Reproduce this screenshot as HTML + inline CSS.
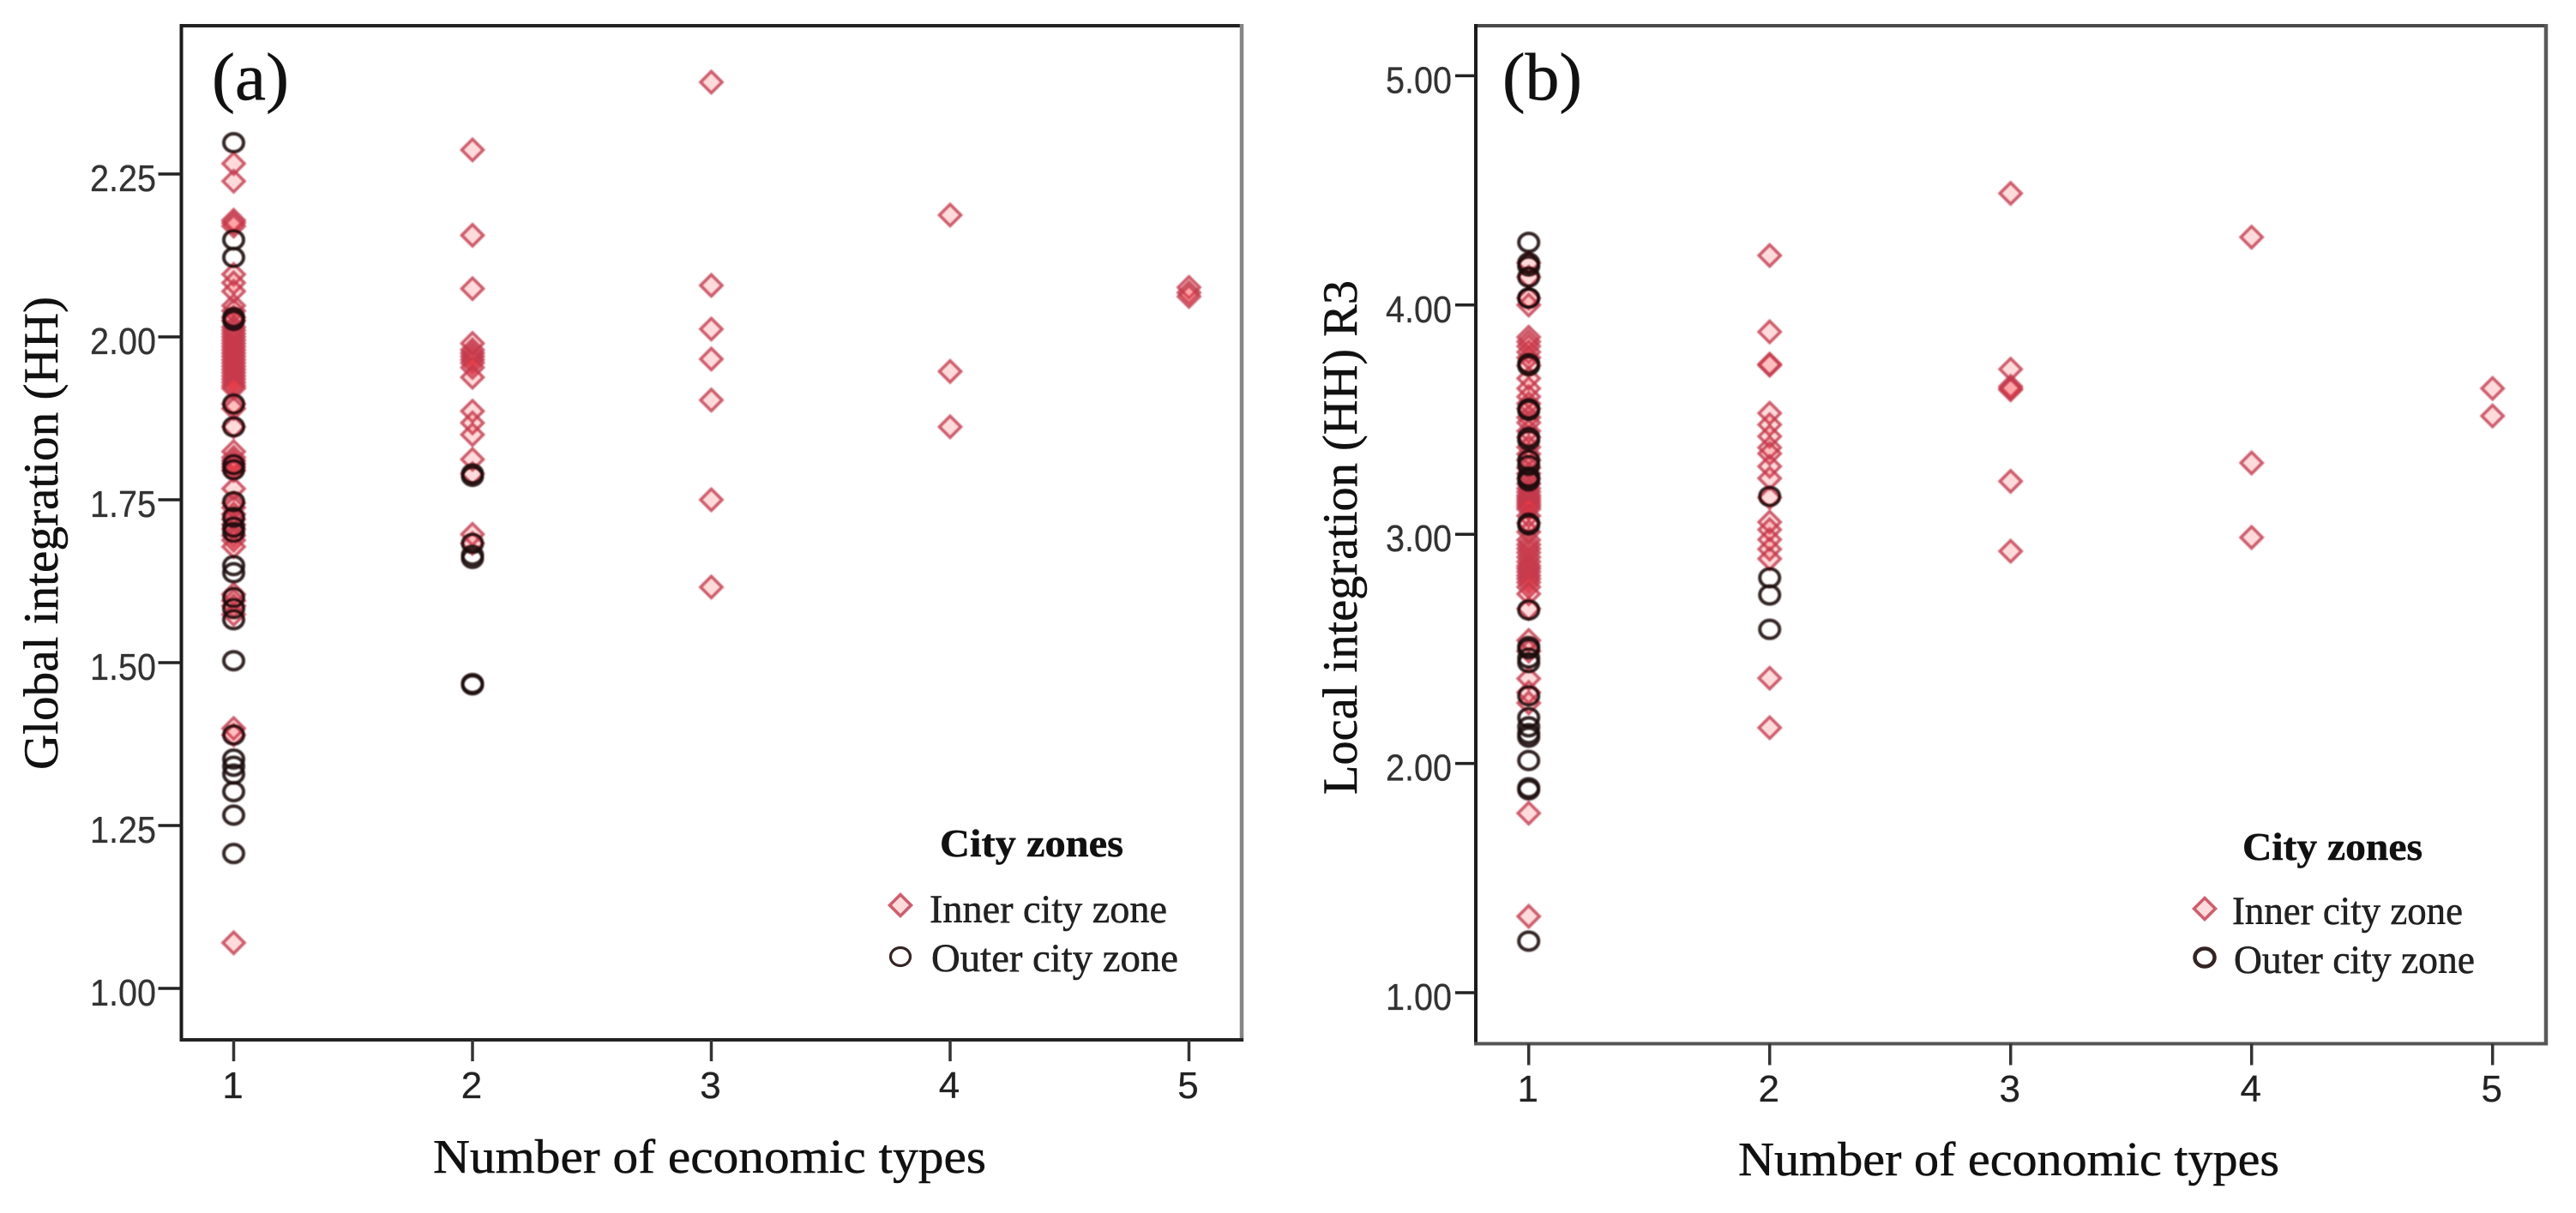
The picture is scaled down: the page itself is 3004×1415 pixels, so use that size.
<!DOCTYPE html>
<html lang="en">
<head>
<meta charset="utf-8">
<title>Economic types vs integration</title>
<style>
html,body{margin:0;padding:0;background:#fff;width:3004px;height:1415px;overflow:hidden}
svg{display:block}
.serif{font-family:"Liberation Serif",serif;stroke:#111;stroke-width:0.5px}
.sans{font-family:"Liberation Sans",sans-serif;stroke:#333;stroke-width:0.3px}
</style>
</head>
<body>
<svg id="chart" xmlns="http://www.w3.org/2000/svg" width="3004" height="1415" viewBox="0 0 3004 1415">
  <defs>
    <filter id="soft" x="-20%" y="-5%" width="140%" height="110%"><feGaussianBlur stdDeviation="0.9"/></filter>
  </defs>
  <rect width="3004" height="1415" fill="#fff"/>
  <g id="panel-a"></g>
  <g id="panel-b"></g>
</svg>
<script>
// Panel (a): Global integration (HH)
const xCategories = [1, 2, 3, 4, 5];
const aYTicks = [1.00, 1.25, 1.50, 1.75, 2.00, 2.25];
const aInner1 = [2.266,2.239,2.179,2.175,2.170,2.096,2.083,2.070,2.048,2.040,2.030,2.025,2.015,2.010,2.005,2.000,1.995,1.990,1.985,1.980,1.975,1.970,1.965,1.960,1.955,1.950,1.945,1.940,1.935,1.930,1.925,1.921,1.897,1.890,1.862,1.824,1.815,1.810,1.805,1.800,1.795,1.767,1.745,1.738,1.728,1.720,1.712,1.705,1.695,1.688,1.678,1.605,1.595,1.587,1.574,1.399,1.389,1.070];
const aInner2 = [2.287,2.156,2.074,1.990,1.980,1.975,1.970,1.965,1.960,1.953,1.938,1.886,1.868,1.850,1.812,1.790,1.697,1.683];
const aInner3 = [2.391,2.079,2.012,1.966,1.903,1.750,1.616];
const aInner4 = [2.187,1.947,1.862];
const aInner5 = [2.076,2.068,2.062];
const aOuter1 = [2.298,2.149,2.122,2.030,2.025,1.897,1.862,1.804,1.796,1.747,1.723,1.708,1.700,1.649,1.638,1.600,1.583,1.566,1.503,1.389,1.352,1.341,1.329,1.302,1.266,1.207];
const aOuter2 = [1.790,1.786,1.683,1.665,1.660,1.466,1.468];

// Panel (b): Local integration (HH) R3
const bYTicks = [1.00, 2.00, 3.00, 4.00, 5.00];
const bInner1 = [4.184,4.122,4.030,4.000,3.860,3.840,3.820,3.795,3.770,3.735,3.680,3.636,3.600,3.570,3.548,3.510,3.487,3.450,3.423,3.380,3.350,3.323,3.290,3.265,3.243,3.220,3.200,3.185,3.170,3.160,3.150,3.140,3.130,3.120,3.110,3.080,3.049,3.010,2.975,2.955,2.937,2.920,2.900,2.880,2.862,2.850,2.836,2.820,2.806,2.790,2.770,2.740,2.675,2.537,2.490,2.370,2.310,2.264,1.783,1.333];
const bInner2 = [4.216,3.883,3.737,3.742,3.528,3.478,3.427,3.378,3.352,3.296,3.244,3.160,3.053,3.020,2.977,2.935,2.893,2.372,2.156];
const bInner3 = [4.487,3.720,3.645,3.636,3.630,3.231,2.926];
const bInner4 = [4.296,3.311,2.986];
const bInner5 = [3.636,3.516];
const bOuter1 = [4.273,4.184,4.170,4.122,4.030,4.030,3.745,3.735,3.548,3.540,3.423,3.410,3.323,3.300,3.250,3.243,3.232,3.049,3.040,2.670,2.510,2.500,2.460,2.440,2.295,2.200,2.160,2.130,2.115,2.013,1.894,1.885,1.225];
const bOuter2 = [3.165,2.810,2.735,2.585];

const aInnerSeries = [aInner1, aInner2, aInner3, aInner4, aInner5];
const aOuterSeries = [aOuter1, aOuter2];
const bInnerSeries = [bInner1, bInner2, bInner3, bInner4, bInner5];
const bOuterSeries = [bOuter1, bOuter2];

const NS = 'http://www.w3.org/2000/svg';

function svgEl(parent, tag, props) {
  const el = document.createElementNS(NS, tag);
  for (const k in props) el.setAttribute(k, props[k]);
  parent.appendChild(el);
  return el;
}

function diamondPoints(cx, cy, r) {
  return (cx - r) + ',' + cy + ' ' + cx + ',' + (cy - r) + ' ' + (cx + r) + ',' + cy + ' ' + cx + ',' + (cy + r);
}

function drawDiamond(parent, cx, cy) {
  const d = svgEl(parent, 'polygon', {points: diamondPoints(cx, cy, 12.5), fill: 'rgba(255,40,50,0.17)', stroke: '#c23a4c', 'stroke-width': 3.6, 'stroke-opacity': 0.8});
  
  
}

function drawCircle(parent, cx, cy, width) {
  const c = svgEl(parent, 'ellipse', {cx: cx, cy: cy, rx: 11.5, ry: 10.5, fill: 'none', stroke: '#1e0c0c', 'stroke-width': width, 'stroke-opacity': 0.9});
  
  
}

function drawPanel(cfg) {
  const root = document.getElementById(cfg.id);
  const xScale = function (n) { return cfg.x1 + cfg.xStep * (n - 1); };
  const yScale = function (v) { return cfg.y1 - cfg.yUnit * (v - 1); };

  // marks
  const marks = svgEl(root, 'g', {filter: 'url(#soft)'});
  
  
  cfg.inner.forEach(function (vals, i) {
    vals.forEach(function (v) { drawDiamond(marks, xScale(xCategories[i]), yScale(v)); });
  });
  cfg.outer.forEach(function (vals, i) {
    vals.forEach(function (v) { drawCircle(marks, xScale(xCategories[i]), yScale(v), 4); });
  });

  // plot frame
  const frame = svgEl(root, 'g', {});
  
  
  svgEl(frame, 'line', {x1: cfg.left, y1: cfg.top, x2: cfg.right, y2: cfg.top, stroke: cfg.topColor, 'stroke-width': 4});
  svgEl(frame, 'line', {x1: cfg.right, y1: cfg.top - 2, x2: cfg.right, y2: cfg.bottom + 2, stroke: cfg.rightColor, 'stroke-width': 4.5});
  svgEl(frame, 'line', {x1: cfg.left, y1: cfg.top - 2, x2: cfg.left, y2: cfg.bottom + 2, stroke: '#1c1c1c', 'stroke-width': 4});
  svgEl(frame, 'line', {x1: cfg.left - 2, y1: cfg.bottom, x2: cfg.right + 2, y2: cfg.bottom, stroke: cfg.bottomColor, 'stroke-width': 4});

  // y ticks
  cfg.yTicks.forEach(function (v) {
    const y = yScale(v);
    const tick = svgEl(root, 'line', {x1: cfg.left - cfg.yTickLen, y1: y, x2: cfg.left, y2: y, stroke: '#222', 'stroke-width': 3.5});
    
    
    const t = svgEl(root, 'text', {x: cfg.yLabelRight, y: y + 20, 'text-anchor': 'end', 'font-size': 44, fill: '#333', 'class': 'sans', textLength: 77, lengthAdjust: 'spacingAndGlyphs'});
    t.textContent = v.toFixed(2);
    
    
  });

  // x ticks
  xCategories.forEach(function (n) {
    const x = xScale(n);
    const tick = svgEl(root, 'line', {x1: x, y1: cfg.bottom, x2: x, y2: cfg.bottom + 25, stroke: '#333', 'stroke-width': 3.5});
    
    
    const t = svgEl(root, 'text', {x: x - 1, y: cfg.xLabelBase, 'text-anchor': 'middle', 'font-size': 44, fill: '#222', 'class': 'sans'});
    t.textContent = String(n);
    
    
  });

  // panel tag
  const tag = svgEl(root, 'text', {x: cfg.tagX, y: cfg.tagY, 'font-size': 78, fill: '#111', 'class': 'serif', textLength: cfg.tagW, lengthAdjust: 'spacingAndGlyphs'});
  tag.textContent = cfg.tag;
  
  

  // axis titles
  const yt = svgEl(root, 'text', {transform: 'translate(' + cfg.yTitleX + ',' + cfg.yTitleBottom + ') rotate(-90)', 'font-size': 57, fill: '#111', 'class': 'serif', textLength: cfg.yTitleLen, lengthAdjust: 'spacingAndGlyphs'});
  yt.textContent = cfg.yTitle;
  
  

  const xt = svgEl(root, 'text', {x: cfg.xTitleX, y: cfg.xTitleY, 'font-size': 56, fill: '#111', 'class': 'serif', textLength: cfg.xTitleLen, lengthAdjust: 'spacingAndGlyphs'});
  xt.textContent = 'Number of economic types';
  
  

  // legend
  const lg = svgEl(root, 'g', {});
  
  
  const lt = svgEl(lg, 'text', {x: cfg.lgTitleX, y: cfg.lgTitleY, 'font-size': 46, 'font-weight': 'bold', fill: '#111', 'class': 'serif', textLength: cfg.lgTitleW, lengthAdjust: 'spacingAndGlyphs'});
  lt.textContent = 'City zones';
  
  

  drawDiamond(lg, cfg.lgMarkX, cfg.lgDiamondY);
  const li = svgEl(lg, 'text', {x: cfg.lgInnerX, y: cfg.lgInnerY, 'font-size': 47, fill: '#222', 'class': 'serif', textLength: cfg.lgInnerW, lengthAdjust: 'spacingAndGlyphs'});
  li.textContent = 'Inner city zone';
  
  

  drawCircle(lg, cfg.lgMarkX, cfg.lgCircleY, cfg.lgCircleStroke);
  const lo = svgEl(lg, 'text', {x: cfg.lgOuterX, y: cfg.lgOuterY, 'font-size': 47, fill: '#222', 'class': 'serif', textLength: cfg.lgOuterW, lengthAdjust: 'spacingAndGlyphs'});
  lo.textContent = 'Outer city zone';
  
  
}

drawPanel({
  id: 'panel-a', inner: aInnerSeries, outer: aOuterSeries, yTicks: aYTicks,
  x1: 272.5, xStep: 278.5, y1: 1153, yUnit: 760,
  left: 211.5, right: 1448, top: 30, bottom: 1213,
  topColor: '#222', rightColor: '#858585', bottomColor: '#222',
  yTickLen: 27, yLabelRight: 182, xLabelBase: 1281,
  tag: '(a)', tagX: 247, tagY: 116, tagW: 90,
  yTitle: 'Global integration (HH)', yTitleX: 67, yTitleBottom: 898, yTitleLen: 552,
  xTitleX: 505, xTitleY: 1368, xTitleLen: 645,
  lgTitleX: 1096, lgTitleY: 999, lgTitleW: 214,
  lgMarkX: 1050, lgDiamondY: 1056, lgCircleY: 1116, lgCircleStroke: 3.2,
  lgInnerX: 1084, lgInnerY: 1076, lgInnerW: 277,
  lgOuterX: 1086, lgOuterY: 1133, lgOuterW: 288
});

drawPanel({
  id: 'panel-b', inner: bInnerSeries, outer: bOuterSeries, yTicks: bYTicks,
  x1: 1782.7, xStep: 281, y1: 1158, yUnit: 267.4,
  left: 1721, right: 2969, top: 30, bottom: 1217.5,
  topColor: '#4a4a4a', rightColor: '#5a5a5a', bottomColor: '#555',
  yTickLen: 24, yLabelRight: 1693, xLabelBase: 1285,
  tag: '(b)', tagX: 1752, tagY: 116, tagW: 93,
  yTitle: 'Local integration (HH) R3', yTitleX: 1582, yTitleBottom: 927, yTitleLen: 600,
  xTitleX: 2027, xTitleY: 1371, xTitleLen: 631,
  lgTitleX: 2615, lgTitleY: 1003, lgTitleW: 210,
  lgMarkX: 2571, lgDiamondY: 1060, lgCircleY: 1117, lgCircleStroke: 4.5,
  lgInnerX: 2603, lgInnerY: 1078, lgInnerW: 269,
  lgOuterX: 2605, lgOuterY: 1135, lgOuterW: 281
});
</script>
</body>
</html>
